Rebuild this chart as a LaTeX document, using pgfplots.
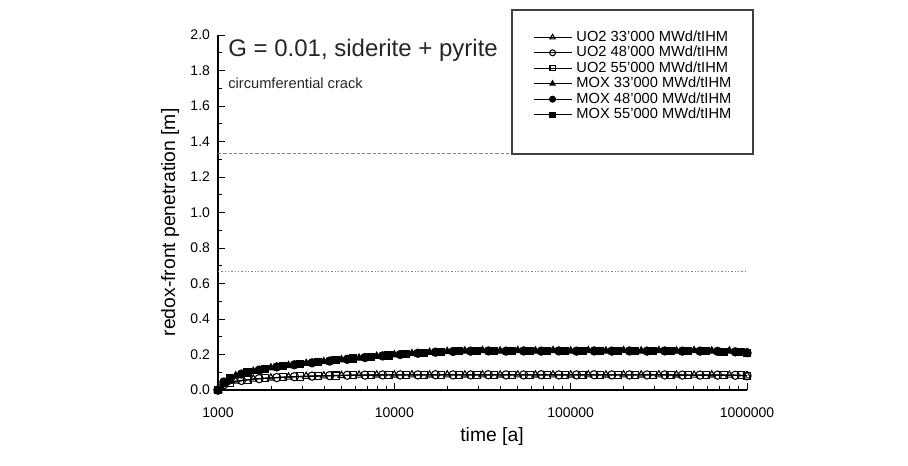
\documentclass[border=0pt]{standalone}
\usepackage{fontspec}
\setmainfont{Liberation Sans}
\usepackage{pgfplots}
\pgfplotsset{compat=1.18}
\begin{document}
\begin{tikzpicture}
\useasboundingbox (-163.5pt,-56.25pt) rectangle (517.5pt,292.5pt);
\begin{axis}[
  at={(0,0)}, anchor=south west, scale only axis,
  width=396.75pt, height=266.25pt,
  xmode=log, xmin=1000, xmax=1000000, ymin=0, ymax=2,
  axis x line*=bottom, axis y line*=left,
  axis line style={-, line width=0.9pt},
  tick align=inside,
  xtick={1000,10000,100000,1000000},
  xticklabels={1000,10000,100000,1000000},
  ytick={0,0.2,0.4,0.6,0.8,1.0,1.2,1.4,1.6,1.8,2.0},
  minor y tick num=1,
  yticklabel style={/pgf/number format/fixed, /pgf/number format/fixed zerofill, /pgf/number format/precision=1, xshift=-2.5pt},
  xticklabel style={yshift=-10pt},
  /pgf/number format/assume math mode=true,
  tick label style={font=\fontsize{10.5}{12}\selectfont},
  major tick length=5pt, minor tick length=3pt,
  tick style={line width=0.7pt, black},
  every axis y label/.style={at={(axis description cs:-0.0907,0.472)}, rotate=90, anchor=center},
  every axis x label/.style={at={(axis description cs:0.518,-0.132)}, anchor=center},
  label style={font=\fontsize{14.5}{16}\selectfont},
  xlabel={time [a]},
  ylabel={redox-front penetration [m]},
  clip=false,
  legend style={at={(rel axis cs:0.595,1.016)}, anchor=north west, draw=none, fill=none,
    inner sep=0pt, row sep=0pt, column sep=3pt,
    font=\fontsize{11}{12}\selectfont,
    nodes={inner sep=0.3pt, text height=8.4pt, text depth=2.6pt}},
  legend cell align=left,
  legend image code/.code={\draw[mark repeat=2,mark phase=2, every mark/.append style={scale=0.72}] plot coordinates {(0pt,0pt) (14.25pt,0pt) (28.5pt,0pt)};},
  every axis plot/.append style={black, line width=0.8pt, mark size=3.1pt},
]
\addplot[forget plot, gray, line width=0.7pt, dash pattern=on 2.5pt off 1.5pt] coordinates {(1000,1.33) (1000000,1.33)};
\addplot[forget plot, gray, line width=0.7pt, dash pattern=on 1pt off 1.5pt] coordinates {(1000,0.67) (1000000,0.67)};

\addplot[mark=triangle, mark options={fill=white, solid}] coordinates {
(1000,0) (1259,0.05) (1585,0.062) (1995,0.068) (2512,0.073) (3162,0.077) (3981,0.08) (5012,0.082) (6310,0.084) (7943,0.085) (10000,0.085) (12589,0.086) (15849,0.085) (19953,0.086) (25119,0.085) (31623,0.086) (39811,0.085) (50119,0.086) (63096,0.085) (79433,0.086) (100000,0.085) (125893,0.086) (158489,0.085) (199526,0.086) (251189,0.085) (316228,0.086) (398107,0.085) (501187,0.084) (630957,0.085) (794328,0.084) (1000000,0.08)};
\addlegendentry{UO2 33'000 MWd/tIHM}
\addplot[mark=o, mark options={fill=white, solid}] coordinates {
(1000,0) (1080,0.03) (1359,0.054) (1711,0.064) (2154,0.07) (2712,0.075) (3415,0.078) (4299,0.081) (5412,0.083) (6813,0.084) (8577,0.085) (10798,0.085) (13594,0.085) (17114,0.086) (21545,0.085) (27124,0.085) (34147,0.086) (42988,0.085) (54119,0.085) (68131,0.086) (85772,0.085) (107980,0.085) (135939,0.086) (171137,0.085) (215443,0.085) (271227,0.085) (341455,0.085) (429866,0.084) (541170,0.084) (681292,0.084) (857702,0.083) (1000000,0.08)};
\addlegendentry{UO2 48'000 MWd/tIHM}
\addplot[mark=square, mark size=2.7pt, mark options={fill=white, solid}] coordinates {
(1000,0) (1166,0.04) (1468,0.058) (1848,0.066) (2326,0.072) (2929,0.076) (3687,0.079) (4642,0.081) (5843,0.083) (7356,0.084) (9261,0.085) (11659,0.085) (14678,0.085) (18478,0.085) (23263,0.086) (29286,0.085) (36869,0.085) (46416,0.086) (58434,0.085) (73564,0.085) (92612,0.085) (116591,0.086) (146780,0.085) (184785,0.085) (232631,0.085) (292864,0.085) (368690,0.085) (464159,0.084) (584337,0.084) (735642,0.083) (926119,0.083) (1000000,0.08)};
\addlegendentry{UO2 55'000 MWd/tIHM}
\addplot[mark=triangle*, mark options={fill=black, solid}] coordinates {
(1000,0) (1259,0.08) (1585,0.105) (1995,0.125) (2512,0.138) (3162,0.15) (3981,0.16) (5012,0.17) (6310,0.18) (7943,0.19) (10000,0.198) (12589,0.205) (15849,0.212) (19953,0.217) (25119,0.22) (31623,0.222) (39811,0.22) (50119,0.222) (63096,0.22) (79433,0.222) (100000,0.22) (125893,0.222) (158489,0.22) (199526,0.222) (251189,0.22) (316228,0.222) (398107,0.22) (501187,0.222) (630957,0.22) (794328,0.22) (1000000,0.21)};
\addlegendentry{MOX 33'000 MWd/tIHM}
\addplot[mark=*, mark options={fill=black, solid}] coordinates {
(1000,0) (1080,0.045) (1359,0.09) (1711,0.112) (2154,0.13) (2712,0.142) (3415,0.153) (4299,0.163) (5412,0.173) (6813,0.183) (8577,0.192) (10798,0.2) (13594,0.207) (17114,0.213) (21545,0.217) (27124,0.219) (34147,0.22) (42988,0.219) (54119,0.22) (68131,0.219) (85772,0.22) (107980,0.219) (135939,0.22) (171137,0.219) (215443,0.22) (271227,0.219) (341455,0.22) (429866,0.219) (541170,0.219) (681292,0.218) (857702,0.215) (1000000,0.21)};
\addlegendentry{MOX 48'000 MWd/tIHM}
\addplot[mark=square*, mark size=2.7pt, mark options={fill=black, solid}] coordinates {
(1000,0) (1166,0.065) (1468,0.1) (1848,0.12) (2326,0.134) (2929,0.146) (3687,0.157) (4642,0.167) (5843,0.177) (7356,0.187) (9261,0.195) (11659,0.202) (14678,0.209) (18478,0.214) (23263,0.218) (29286,0.219) (36869,0.22) (46416,0.219) (58434,0.218) (73564,0.219) (92612,0.218) (116591,0.219) (146780,0.218) (184785,0.219) (232631,0.218) (292864,0.219) (368690,0.218) (464159,0.218) (584337,0.218) (735642,0.216) (926119,0.213) (1000000,0.21)};
\addlegendentry{MOX 55'000 MWd/tIHM}

\draw[line width=0.8pt, black!75] (rel axis cs:0.5558,1.0704) rectangle (rel axis cs:1.0113,0.6648);
\node[anchor=west, inner sep=0pt, font=\fontsize{18}{20}\selectfont, text=black!85] at (rel axis cs:0.019,0.958) {G = 0.01, siderite + pyrite};
\node[anchor=west, inner sep=0pt, font=\fontsize{11}{12}\selectfont, text=black!85] at (rel axis cs:0.019,0.865) {circumferential crack};
\end{axis}
\end{tikzpicture}
\end{document}
